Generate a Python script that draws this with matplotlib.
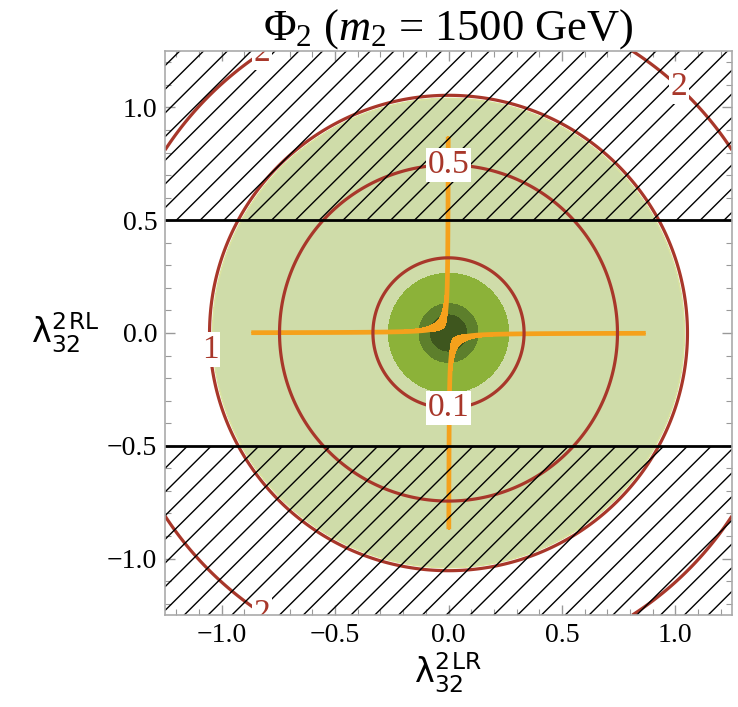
import numpy as np
import matplotlib.pyplot as plt
from matplotlib.collections import LineCollection
from matplotlib.patches import Rectangle
from matplotlib.ticker import MultipleLocator

plt.rcParams['font.family'] = 'Liberation Serif'
plt.rcParams['mathtext.fontset'] = 'custom'
plt.rcParams['mathtext.rm'] = 'Liberation Serif'
plt.rcParams['mathtext.it'] = 'Liberation Serif:italic'
plt.rcParams['mathtext.sf'] = 'DejaVu Sans'

# red contours of (x^2+y^2)/scale
red_levels = [0.1, 0.5, 1, 2]
red_scale = 1.11
red_label_angles = {0.1: [270], 0.5: [90], 1: [184], 2: [47, 123.5, 236.5]}

# green filled disks (radius bands, outer -> inner)
green_radii = [1.04, 0.265, 0.13, 0.08]
green_colors = ['#cfdca9', '#8cb239', '#5d7f2c', '#3e561e']

# orange band: x*y between these values, inside radius
orange_band = [-0.0026, -0.0005]
orange_rmax = 0.87

# hatched (excluded) region |y| > limit
y_limit = 0.5
lim = 1.25

x = np.linspace(-lim, lim, 1401)
X, Y = np.meshgrid(x, x)
R = np.sqrt(X**2 + Y**2)

fig = plt.figure(figsize=(7.38, 7.07), dpi=100)
ax = fig.add_axes([165/738, 1-615/707, 567/738, 564/707])

# green disks
for r, c in zip(green_radii, green_colors):
    ax.contourf(X, Y, R, levels=[0, r], colors=[c], zorder=1)
ax.contour(X, Y, R, levels=[green_radii[0]], colors=['#d9e3a0'], linewidths=1.2, zorder=1.5)

# orange band
P = np.ma.masked_where(R > orange_rmax, X*Y)
ax.contourf(X, Y, P, levels=orange_band, colors=['#f5a11c'], zorder=2)
ax.contour(X, Y, P, levels=[-0.0012], colors=['#f5a11c'], linewidths=3.4,
           linestyles='solid', zorder=2)

# red circles
F = (X**2 + Y**2) / red_scale
ax.contour(X, Y, F, levels=red_levels, colors=['#a8372a'], linewidths=2.3, zorder=3)

# hatching
step = 0.105
segs = [[(-lim, -lim + b), (lim, lim + b)] for b in np.arange(-2*lim, 2*lim, step)]
for y0, y1 in [(y_limit, lim), (-lim, -y_limit)]:
    lc = LineCollection(segs, colors='black', linewidths=1.0, zorder=4)
    ax.add_collection(lc)
    rect = Rectangle((-lim, y0), 2*lim, y1 - y0, transform=ax.transData, fill=False, visible=False)
    ax.add_patch(rect)
    lc.set_clip_path(rect)
ax.axhline(y_limit, color='black', lw=2.0, zorder=4)
ax.axhline(-y_limit, color='black', lw=2.0, zorder=4)

# contour labels
for lev, angs in red_label_angles.items():
    rr = np.sqrt(lev * red_scale)
    for a in angs:
        t = np.deg2rad(a)
        ax.text(rr*np.cos(t), rr*np.sin(t), f'{lev:g}', color='#a8372a', fontsize=24,
                ha='center', va='center', zorder=6, clip_on=True,
                bbox=dict(facecolor='white', edgecolor='none', pad=1.5))

ax.set_xlim(-lim, lim)
ax.set_ylim(-lim, lim)
ax.xaxis.set_major_locator(MultipleLocator(0.5))
ax.yaxis.set_major_locator(MultipleLocator(0.5))
ax.xaxis.set_minor_locator(MultipleLocator(0.1))
ax.yaxis.set_minor_locator(MultipleLocator(0.1))
ax.tick_params(which='both', direction='in', top=True, right=True, color='#999999')
ax.tick_params(which='major', length=7, width=1, labelsize=20, pad=5.5)
ax.tick_params(which='minor', length=4, width=0.8)
for s in ax.spines.values():
    s.set_color('#aaaaaa')
    s.set_linewidth(1.2)
    s.set_zorder(7)

ax.set_title(r'$\mathrm{\Phi}_2$ ($m_2$ = 1500 GeV)', fontsize=32, pad=2)
ax.set_xlabel(r'$\mathsf{\lambda_{32}^{2\,LR}}$', fontsize=24, labelpad=2)
ax.set_ylabel(r'$\mathsf{\lambda_{32}^{2\,RL}}$', fontsize=24, rotation=0, labelpad=30, va='center')

fig.savefig('out.png', dpi=100)
